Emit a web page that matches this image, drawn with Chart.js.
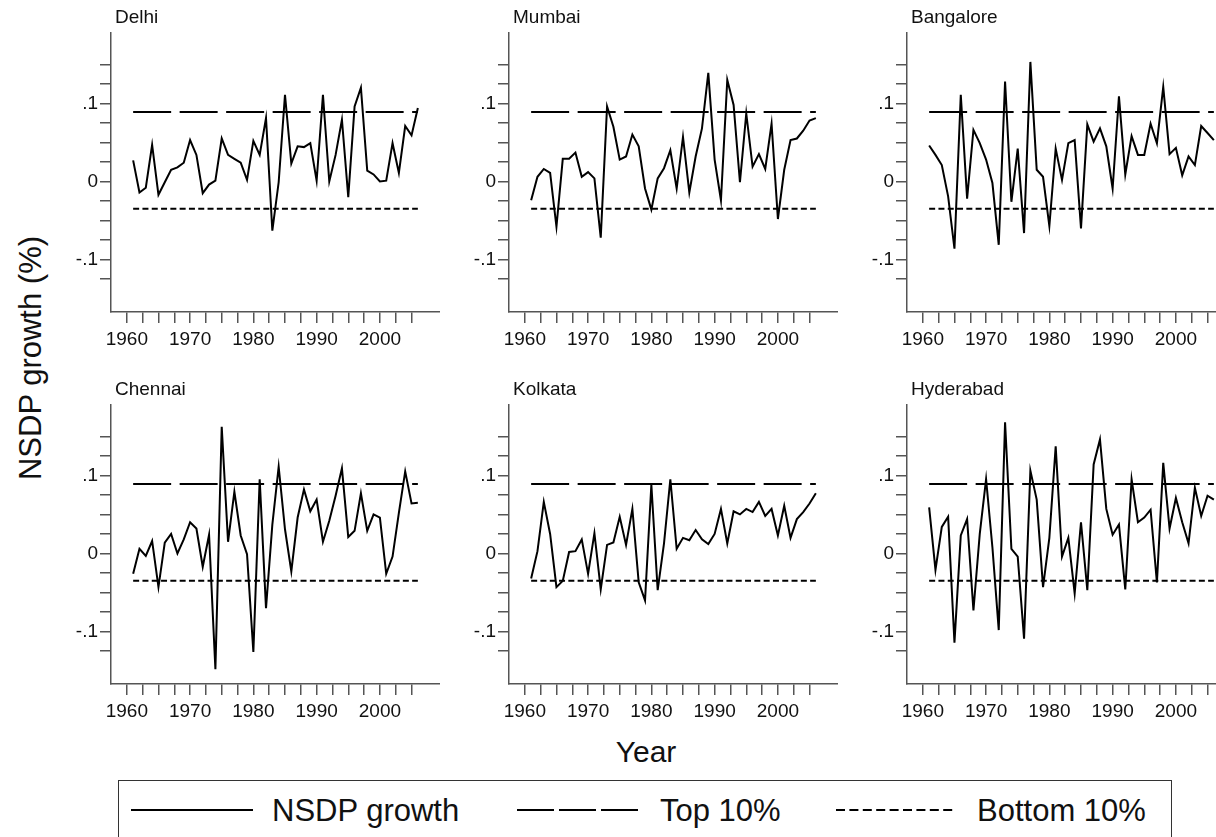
<!DOCTYPE html>
<html>
<head>
<meta charset="utf-8">
<script src="https://cdn.jsdelivr.net/npm/chart.js@4.4.1/dist/chart.umd.min.js"></script>
<style>
  html, body { margin: 0; padding: 0; background: #fff; }
  body { position: relative; width: 1216px; height: 837px; overflow: hidden; font-family: "Liberation Sans", Arial, sans-serif; color: #111; }
  canvas { position: absolute; }
  .lbl { position: absolute; white-space: nowrap; line-height: 1; }
  #ytitle { font-size: 31px; left: 30px; top: 358px; transform: translate(-50%, -50%) rotate(-90deg); }
  #xtitle { font-size: 30px; left: 646px; top: 752px; transform: translate(-50%, -50%); }
  #legend { position: absolute; left: 118px; top: 780px; width: 1054px; height: 62px; border: 1.5px solid #333; box-sizing: border-box; }
  .ltxt { position: absolute; font-size: 31px; top: 810px; transform: translateY(-50%); line-height: 1; }
  svg.lline { position: absolute; top: 805px; height: 10px; }
</style>
</head>
<body>
<div id="ytitle" class="lbl">NSDP growth (%)</div>
<div id="xtitle" class="lbl">Year</div>
<div id="legend"></div>
<svg class="lline" style="left:131px" width="122" height="10"><line x1="0" y1="5" x2="122" y2="5" stroke="#000" stroke-width="2"/></svg>
<div class="ltxt" style="left:272px">NSDP growth</div>
<svg class="lline" style="left:517px" width="121" height="10"><line x1="0" y1="5" x2="121" y2="5" stroke="#000" stroke-width="2" stroke-dasharray="37 5"/></svg>
<div class="ltxt" style="left:660px">Top 10%</div>
<svg class="lline" style="left:836px" width="120" height="10"><line x1="0" y1="5" x2="120" y2="5" stroke="#000" stroke-width="2" stroke-dasharray="9 4.4"/></svg>
<div class="ltxt" style="left:977px">Bottom 10%</div>

<canvas id="c0" width="389" height="362" style="left:51px;top:0px"></canvas>
<canvas id="c1" width="389" height="362" style="left:449px;top:0px"></canvas>
<canvas id="c2" width="389" height="362" style="left:847px;top:0px"></canvas>
<canvas id="c3" width="389" height="362" style="left:51px;top:372px"></canvas>
<canvas id="c4" width="389" height="362" style="left:449px;top:372px"></canvas>
<canvas id="c5" width="389" height="362" style="left:847px;top:372px"></canvas>

<script>
// Tahun pengamatan dan nilai pertumbuhan NSDP per kota
const years = [1961, 1962, 1963, 1964, 1965, 1966, 1967, 1968, 1969, 1970,
  1971, 1972, 1973, 1974, 1975, 1976, 1977, 1978, 1979, 1980,
  1981, 1982, 1983, 1984, 1985, 1986, 1987, 1988, 1989, 1990,
  1991, 1992, 1993, 1994, 1995, 1996, 1997, 1998, 1999, 2000,
  2001, 2002, 2003, 2004, 2005, 2006];

const delhi = [0.027, -0.014, -0.008, 0.047, -0.017, -0.001, 0.015, 0.018, 0.024, 0.053,
  0.034, -0.015, -0.004, 0.001, 0.055, 0.034, 0.029, 0.024, 0.002, 0.052,
  0.034, 0.081, -0.063, -0.001, 0.111, 0.023, 0.045, 0.044, 0.049, 0.001,
  0.111, 0.000, 0.034, 0.079, -0.020, 0.096, 0.120, 0.014, 0.009, 0.000,
  0.001, 0.049, 0.011, 0.071, 0.059, 0.094];

const mumbai = [-0.024, 0.006, 0.016, 0.011, -0.058, 0.029, 0.029, 0.037, 0.006, 0.012,
  0.004, -0.072, 0.096, 0.070, 0.028, 0.032, 0.060, 0.045, -0.009, -0.036,
  0.004, 0.017, 0.040, -0.009, 0.057, -0.014, 0.032, 0.068, 0.139, 0.028,
  -0.024, 0.130, 0.098, -0.001, 0.087, 0.019, 0.035, 0.016, 0.074, -0.048,
  0.015, 0.053, 0.055, 0.065, 0.078, 0.081];

const bangalore = [0.046, 0.034, 0.021, -0.019, -0.086, 0.111, -0.022, 0.066, 0.049, 0.028,
  -0.002, -0.081, 0.128, -0.026, 0.042, -0.066, 0.153, 0.015, 0.006, -0.057,
  0.042, 0.002, 0.049, 0.053, -0.060, 0.073, 0.051, 0.068, 0.045, -0.009,
  0.109, 0.009, 0.058, 0.034, 0.034, 0.074, 0.049, 0.121, 0.035, 0.043,
  0.008, 0.032, 0.021, 0.071, 0.062, 0.053];

const chennai = [-0.026, 0.006, -0.003, 0.016, -0.043, 0.014, 0.025, 0.000, 0.018, 0.040,
  0.032, -0.017, 0.024, -0.148, 0.162, 0.015, 0.079, 0.023, -0.001, -0.126,
  0.095, -0.070, 0.037, 0.111, 0.031, -0.023, 0.046, 0.082, 0.054, 0.069,
  0.015, 0.042, 0.074, 0.109, 0.021, 0.029, 0.077, 0.029, 0.050, 0.046,
  -0.026, -0.004, 0.052, 0.105, 0.064, 0.065];

const kolkata = [-0.032, 0.003, 0.066, 0.025, -0.043, -0.035, 0.002, 0.003, 0.018, -0.026,
  0.026, -0.046, 0.011, 0.014, 0.047, 0.011, 0.057, -0.037, -0.060, 0.088,
  -0.047, 0.013, 0.095, 0.006, 0.020, 0.017, 0.030, 0.018, 0.012, 0.025,
  0.057, 0.013, 0.054, 0.050, 0.057, 0.053, 0.066, 0.048, 0.057, 0.023,
  0.061, 0.020, 0.044, 0.053, 0.064, 0.077];

const hyderabad = [0.059, -0.021, 0.034, 0.047, -0.114, 0.023, 0.044, -0.073, 0.025, 0.095,
  0.008, -0.098, 0.168, 0.006, -0.004, -0.109, 0.106, 0.069, -0.043, 0.020,
  0.137, -0.004, 0.020, -0.051, 0.040, -0.047, 0.114, 0.146, 0.057, 0.024,
  0.037, -0.046, 0.095, 0.040, 0.046, 0.056, -0.037, 0.116, 0.032, 0.071,
  0.040, 0.013, 0.084, 0.048, 0.074, 0.069];

const cities = ['Delhi', 'Mumbai', 'Bangalore', 'Chennai', 'Kolkata', 'Hyderabad'];
const cityValues = [delhi, mumbai, bangalore, chennai, kolkata, hyderabad];

// Batas persentil 10% atas dan bawah (sama untuk semua panel)
const top10 = 0.089;
const bottom10 = -0.035;

// Posisi tick sumbu
const xTicks = [1960, 1962.5, 1965, 1967.5, 1970, 1972.5, 1975, 1977.5, 1980, 1982.5,
  1985, 1987.5, 1990, 1992.5, 1995, 1997.5, 2000, 2002.5, 2005];
const xTickLabels = ['1960', '', '', '', '1970', '', '', '', '1980', '',
  '', '', '1990', '', '', '', '2000', '', ''];
const yTicks = [-0.125, -0.1, -0.075, -0.05, -0.025, 0, 0.025, 0.05, 0.075, 0.1, 0.125, 0.15];
const yTickLabels = ['', '-.1', '', '', '', '0', '', '', '', '.1', '', ''];

const FONT = '"Liberation Sans", Arial, sans-serif';
const AXIS = '#555';

// Plugin kecil untuk judul panel di kiri atas area plot
const panelTitle = {
    id: 'panelTitle',
    afterDraw(chart, args, opts) {
        const { ctx, chartArea } = chart;
        ctx.save();
        ctx.font = `19px ${FONT}`;
        ctx.fillStyle = '#111';
        ctx.textBaseline = 'middle';
        ctx.textAlign = 'left';
        ctx.fillText(opts.text, chartArea.left + 4, chartArea.top - 15);
        ctx.restore();
    }
};

cities.forEach((city, k) => {
    const vals = cityValues[k];
    const first = years[0];
    const last = years[years.length - 1];

    new Chart(document.getElementById('c' + k).getContext('2d'), {
        type: 'line',
        data: {
            datasets: [
                {
                    label: 'NSDP growth',
                    data: years.map((yr, i) => ({ x: yr, y: vals[i] })),
                    borderColor: '#000',
                    borderWidth: 2,
                    pointRadius: 0,
                    tension: 0
                },
                {
                    label: 'Top 10%',
                    data: [{ x: first, y: top10 }, { x: last, y: top10 }],
                    borderColor: '#000',
                    borderWidth: 2,
                    borderDash: [38, 8.5],
                    pointRadius: 0
                },
                {
                    label: 'Bottom 10%',
                    data: [{ x: first, y: bottom10 }, { x: last, y: bottom10 }],
                    borderColor: '#000',
                    borderWidth: 2,
                    borderDash: [6, 3.3],
                    pointRadius: 0
                }
            ]
        },
        options: {
            responsive: false,
            animation: false,
            layout: { padding: { top: 33, left: 0, right: 0, bottom: 0 } },
            plugins: {
                legend: { display: false },
                tooltip: { enabled: false },
                panelTitle: { text: city }
            },
            scales: {
                x: {
                    type: 'linear',
                    min: 1957.5,
                    max: 2009.5,
                    afterBuildTicks: (axis) => { axis.ticks = xTicks.map(v => ({ value: v })); },
                    afterFit: (axis) => { axis.height = 50; },
                    ticks: {
                        autoSkip: false,
                        maxRotation: 0,
                        padding: 5,
                        color: '#111',
                        font: { size: 19, family: FONT },
                        callback: (v, i) => xTickLabels[i]
                    },
                    grid: { drawOnChartArea: false, drawTicks: true, tickLength: 11, color: AXIS, lineWidth: 1.5 },
                    border: { display: true, color: AXIS, width: 1.5 }
                },
                y: {
                    min: -0.167,
                    max: 0.19,
                    afterBuildTicks: (axis) => { axis.ticks = yTicks.map(v => ({ value: v })); },
                    afterFit: (axis) => { axis.width = 60; },
                    ticks: {
                        autoSkip: false,
                        padding: 2,
                        color: '#111',
                        font: { size: 19, family: FONT },
                        callback: (v, i) => yTickLabels[i]
                    },
                    grid: { drawOnChartArea: false, drawTicks: true, tickLength: 11, color: AXIS, lineWidth: 1.5 },
                    border: { display: true, color: AXIS, width: 1.5 }
                }
            }
        },
        plugins: [panelTitle]
    });
});
</script>
</body>
</html>
